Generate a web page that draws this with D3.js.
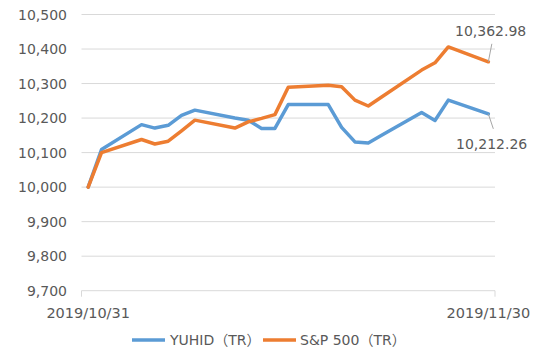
<!DOCTYPE html>
<html><head><meta charset="utf-8">
<script src="https://cdn.jsdelivr.net/npm/d3@7"></script>
<style>
html,body{margin:0;padding:0;background:#fff;}
svg{display:block;font-family:"DejaVu Sans","Noto Sans CJK JP",sans-serif;}
</style></head>
<body><svg id="chart" width="539" height="360"></svg>
<script>
const dates = ["2019-10-31","2019-11-01","2019-11-04","2019-11-05","2019-11-06","2019-11-07","2019-11-08",
  "2019-11-11","2019-11-12","2019-11-13","2019-11-14","2019-11-15","2019-11-18","2019-11-19","2019-11-20",
  "2019-11-21","2019-11-22","2019-11-25","2019-11-26","2019-11-27","2019-11-30"];
const yuhid = [10000,10109,10181,10171,10179,10208,10223,10200,10194,10170,10170,10239,10239,10173,10131,
  10128,10150,10216,10193,10252,10212.26];
const sp500 = [10000,10100,10138,10125,10133,10163,10194,10171,10189,10199,10210,10289,10295,10291,10252,
  10235,10261,10339,10360,10406,10362.98];
const yTicks = [9700,9800,9900,10000,10100,10200,10300,10400,10500];
const xLabels = ["2019/10/31","2019/11/30"];
const seriesNames = ["YUHID（TR）","S&P 500（TR）"];
const colors = ["#5B9BD5","#ED7D31"];

const svg = d3.select("#chart");
const parse = d3.utcParse("%Y-%m-%d");
const dts = dates.map(d => new Date(parse(d).getTime() + 12*3600*1000));
const x = d3.scaleUtc().domain([parse("2019-10-31"), parse("2019-12-01")]).range([81.5, 495]);
const y = d3.scaleLinear().domain([9700,10500]).range([290.7,14.5]);
const textColor = "#595959";

// gridlines
svg.append("g").selectAll("line").data(yTicks.slice(1)).join("line")
  .attr("x1",81.5).attr("x2",495).attr("y1",d=>y(d)).attr("y2",d=>y(d))
  .attr("stroke","#D9D9D9").attr("stroke-width",1);
// x axis line & end ticks
svg.append("line").attr("x1",81.5).attr("x2",495).attr("y1",y(9700)).attr("y2",y(9700))
  .attr("stroke","#D9D9D9").attr("stroke-width",1);
[81.5,495].forEach(px=>svg.append("line").attr("x1",px).attr("x2",px)
  .attr("y1",y(9700)).attr("y2",y(9700)+6).attr("stroke","#D9D9D9").attr("stroke-width",1));

// y labels
const fmt = d3.format(",");
svg.append("g").selectAll("text").data(yTicks).join("text")
  .attr("x",67).attr("y",d=>y(d)+5).attr("text-anchor","end")
  .attr("font-size",14).attr("fill",textColor).text(d=>fmt(d));

// x labels
svg.append("text").attr("x",x(dts[0])).attr("y",318).attr("text-anchor","middle")
  .attr("font-size",14.5).attr("fill",textColor).text(xLabels[0]);
svg.append("text").attr("x",x(dts[dts.length-1])).attr("y",318).attr("text-anchor","middle")
  .attr("font-size",14.5).attr("fill",textColor).text(xLabels[1]);

// lines
const line = d3.line().x((d,i)=>x(dts[i])).y(d=>y(d));
[yuhid, sp500].forEach((s,k)=>{
  svg.append("path").datum(s).attr("d",line).attr("fill","none")
    .attr("stroke",colors[k]).attr("stroke-width",3.5).attr("stroke-linejoin","round").attr("stroke-linecap","round");
});

// data labels with leader lines
const last = dts.length-1;
const lx = x(dts[last]);
svg.append("line").attr("x1",lx).attr("y1",y(sp500[last])).attr("x2",lx+3.5).attr("y2",y(sp500[last])-18)
  .attr("stroke","#A6A6A6").attr("stroke-width",1);
svg.append("text").attr("x",455).attr("y",36).attr("font-size",14).attr("fill",textColor)
  .text(d3.format(",.2f")(sp500[last]));
svg.append("line").attr("x1",lx).attr("y1",y(yuhid[last])).attr("x2",lx+5).attr("y2",y(yuhid[last])+15)
  .attr("stroke","#A6A6A6").attr("stroke-width",1);
svg.append("text").attr("x",456).attr("y",149).attr("font-size",14).attr("fill",textColor)
  .text(d3.format(",.2f")(yuhid[last]));

// legend
const lg = svg.append("g");
[[132,170],[263,300]].forEach((p,k)=>{
  lg.append("line").attr("x1",p[0]).attr("x2",p[0]+33).attr("y1",340).attr("y2",340)
    .attr("stroke",colors[k]).attr("stroke-width",3.5);
  lg.append("text").attr("x",p[1]).attr("y",345).attr("font-size",14).attr("fill",textColor).text(seriesNames[k]);
});
</script></body></html>
